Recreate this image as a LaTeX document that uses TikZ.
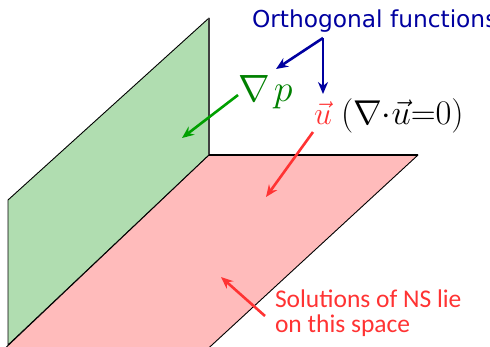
\RequirePackage{fix-cm}
\documentclass[tikz,border=0pt]{standalone}
\usepackage{fontspec}
\setsansfont{DejaVu Sans}
\newfontfamily\solfont{Carlito}
\usetikzlibrary{arrows.meta}
\definecolor{orthblue}{RGB}{0,0,160}
\definecolor{gradgreen}{RGB}{0,128,0}
\definecolor{arrgreen}{RGB}{0,160,0}
\definecolor{nsred}{RGB}{255,51,51}
\definecolor{planegreen}{RGB}{176,221,176}
\definecolor{planepink}{RGB}{255,187,187}
\begin{document}
\begin{tikzpicture}[x=1pt, y=-1pt, line join=round,
    plane/.style={draw=black, line width=0.9pt},
    ptr/.style={line width=2.6pt, -{Stealth[length=12pt,width=10pt]}},
    lbl/.style={inner sep=0pt, outer sep=0pt, anchor=base west}]
  \useasboundingbox (0,0) rectangle (490,346);
  \clip (0,0) rectangle (490,346);
  % 两个平面
  \coordinate (GT) at (209,18);
  \coordinate (GC) at (209,155);
  \coordinate (GB) at (8,345);
  \coordinate (GL) at (8,200);
  \coordinate (PR) at (418,155);
  \coordinate (PB) at (200,356);
  \coordinate (PL) at (-3,356);
  \draw[plane, fill=planegreen] (GT) -- (GC) -- (GB) -- (GL) -- cycle;
  \draw[plane, fill=planepink] (GC) -- (PR) -- (PB) -- (PL) -- cycle;
  \draw[line width=1.6pt, black!75] (GT) -- (GC);
  \draw[line width=1.4pt] (GC) -- (PR);
  % 标签
  \node[lbl, text=orthblue, font=\sffamily\fontsize{23.3}{28}\selectfont]
    (ortho) at (252,27) {Orthogonal functions};
  \node[lbl, text=gradgreen, font=\fontsize{38}{44}\selectfont]
    (gradp) at (238,101) {$\nabla\mkern2mu p$};
  \node[lbl, text=nsred, font=\fontsize{32}{38}\selectfont]
    (uvec) at (314,124) {$\vec{u}$};
  \node[lbl, font=\fontsize{34.5}{40}\selectfont]
    (divfree) at (341,124) {$(\nabla{\cdot}\vec{u}{=}0)$};
  \node[lbl, text=nsred, align=left, font=\solfont\fontsize{25.5}{25}\selectfont]
    (sol) at (275,332) {Solutions of NS lie\\on this space};
  % 箭头
  \coordinate (Ap) at (323,38);
  \coordinate (Bg) at (276,69);
  \coordinate (Bu) at (323,94);
  \coordinate (Ga) at (238,95);
  \coordinate (Gb) at (182,138);
  \coordinate (Ra) at (313,132);
  \coordinate (Rb) at (266,197);
  \coordinate (Sa) at (265,316);
  \coordinate (Sb) at (221,277);
  \draw[ptr, orthblue] (Ap) -- (Bg);
  \draw[ptr, orthblue] (Ap) -- (Bu);
  \draw[ptr, arrgreen] (Ga) -- (Gb);
  \draw[ptr, nsred] (Ra) -- (Rb);
  \draw[ptr, nsred] (Sa) -- (Sb);
\end{tikzpicture}
\end{document}
